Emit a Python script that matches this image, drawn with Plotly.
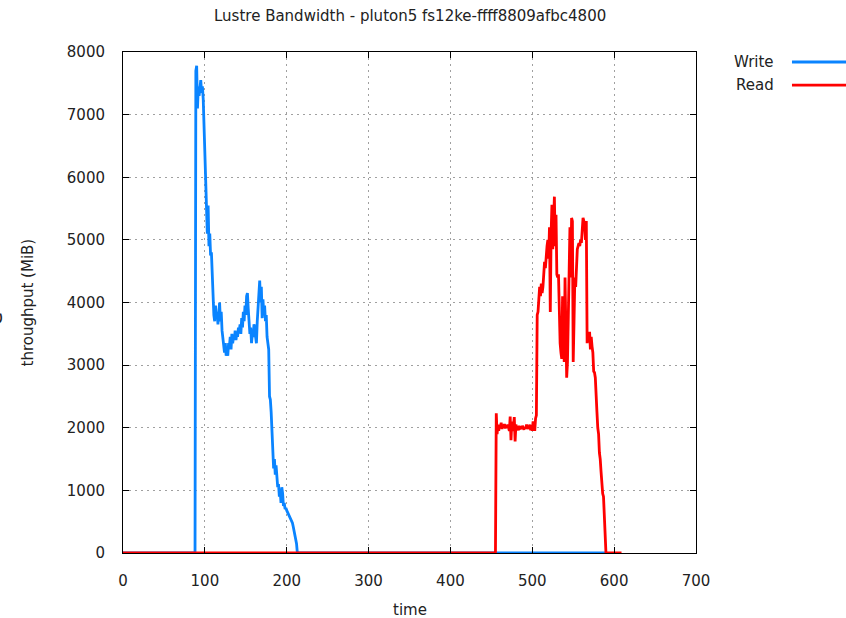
import plotly.graph_objects as go

# ---- data ----
write_t = [0, 88] + list(range(89, 214)) + [589]
write_v = [0, 0,
    7700, 7780, 7100, 7450, 7300, 7400, 7550, 7350, 7450, 7250,   # 89-98
    6850, 6100, 6050, 5600, 5100, 5550, 4900, 5100, 4750, 4800,   # 99-108
    4450, 3900, 3800, 3700, 3950, 3750, 3850, 3650, 3900, 4000,   # 109-118
    3700, 3850, 3550, 3450, 3300, 3200, 3350, 3150, 3250, 3150,   # 119-128
    3350, 3300, 3450, 3250, 3500, 3350, 3450, 3400, 3550, 3400,   # 129-138
    3500, 3450, 3600, 3550, 3650, 3500, 3750, 3600, 3850, 3700,   # 139-148
    3950, 3800, 4100, 4150, 3900, 3700, 3500, 3600, 3350, 3500,   # 149-158
    3450, 3650, 3600, 3450, 3350, 3700, 3900, 4200, 4350, 4000,   # 159-168
    4250, 3750, 4050, 3800, 3950, 3700, 3800, 3450, 3300, 3250,   # 169-178
    2500, 2450, 2250, 1950, 1600, 1350, 1500, 1250, 1400, 1200,   # 179-188
    1050, 1100, 900, 1000, 800, 1050, 950, 750, 800, 700,         # 189-198
    720, 680, 650, 620, 600, 560, 530, 500, 480, 420,             # 199-208
    350, 280, 200, 150, 0,                                        # 209-213
    0]

read_t = [0, 455] + list(range(456, 591)) + [609]
read_v = [0, 0,
    2230, 1900, 2050, 1950, 2050, 2000, 2080, 1980, 2050, 2000,   # 456-465
    2060, 1990, 2040, 2000, 2050, 2010, 1950, 2180, 1800, 2100,   # 466-475
    1950, 2020, 2170, 1780, 2050, 1990, 2000, 1960, 2030, 1990,   # 476-485
    2000, 1980, 2030, 2000, 1970, 2010, 1990, 2050, 1980, 2020,   # 486-495
    2000, 2050, 1960, 2030, 1950, 2100, 2000, 1950, 2150, 2200,   # 496-505
    3800, 3850, 4050, 4250, 4100, 4300, 4150, 4250, 4450, 4650,   # 506-515
    4550, 4800, 4900, 5000, 4700, 5200, 3850, 5100, 5560, 4850,   # 516-525
    5300, 5690, 4900, 5400, 4450, 4400, 4450, 3700, 3350, 3200,   # 526-535
    3100, 4100, 3300, 3050, 4400, 3200, 2800, 3050, 3600, 4500,   # 536-545
    5200, 4400, 5350, 5300, 3050, 3700, 4400, 4250, 4700, 4850,   # 546-555
    4900, 4950, 4900, 5000, 4950, 5100, 5350, 5300, 5250, 5000,   # 556-565
    5300, 3350, 3500, 3400, 3530, 3250, 3450, 3300, 3200, 2900,   # 566-575
    2880, 2800, 2300, 2250, 2000, 1900, 1600, 1500, 1300, 1000,   # 576-585
    950, 900, 550, 500, 0,                                        # 586-590
    0]

x_ticks = [0, 100, 200, 300, 400, 500, 600, 700]
y_ticks = [0, 1000, 2000, 3000, 4000, 5000, 6000, 7000, 8000]
series_names = ["Write", "Read"]
series_colors = ["#0a84ff", "#ff0000"]

title_text = "Lustre Bandwidth - pluton5 fs12ke-ffff8809afbc4800"
x_title = "time"
y_title = "throughput (MiB)"

FONT = "DejaVu Sans"
TXT = "#222222"
FS = 15

fig = go.Figure()
fig.add_trace(go.Scatter(x=write_t, y=write_v, mode="lines", name=series_names[0],
                         line=dict(color=series_colors[0], width=2.8), showlegend=False))
fig.add_trace(go.Scatter(x=read_t, y=read_v, mode="lines", name=series_names[1],
                         line=dict(color=series_colors[1], width=2.8), showlegend=False))

axis_common = dict(
    showline=True, linecolor="#000000", linewidth=1, mirror="ticks",
    ticks="inside", ticklen=6, tickcolor="#000000", tickwidth=1,
    showgrid=True, gridcolor="#a0a0a0", gridwidth=1, griddash="2px,4px",
    zeroline=False, ticklabelstandoff=14,
    tickfont=dict(family=FONT, size=FS, color=TXT),
)

fig.update_xaxes(range=[0, 700], tickvals=x_ticks, ticktext=[str(v) for v in x_ticks], **axis_common)
fig.update_yaxes(range=[0, 8000], tickvals=y_ticks, ticktext=[str(v) for v in y_ticks], **axis_common)

annotations = [
    dict(text=title_text, xref="paper", yref="paper", x=0.5, y=1, yshift=36,
         showarrow=False, font=dict(family=FONT, size=FS, color=TXT), xanchor="center", yanchor="middle"),
    dict(text=x_title, xref="paper", yref="paper", x=0.5, y=0, yshift=-57,
         showarrow=False, font=dict(family=FONT, size=FS, color=TXT), xanchor="center", yanchor="middle"),
    dict(text=y_title, xref="paper", yref="paper", x=0, y=0.5, xshift=-96, textangle=-90,
         showarrow=False, font=dict(family=FONT, size=FS, color=TXT), xanchor="center", yanchor="middle"),
    dict(text="e", xref="paper", yref="paper", x=0, y=0.5, xshift=-129, yshift=-16, textangle=-90,
         showarrow=False, font=dict(family=FONT, size=22, color=TXT), xanchor="center", yanchor="middle"),
]
shapes = []
legend_y = [0.98, 0.934]
for name, col, ly in zip(series_names, series_colors, legend_y):
    annotations.append(dict(text=name, xref="paper", yref="paper", x=1.1396, y=ly,
                            showarrow=False, xanchor="right", yanchor="middle",
                            font=dict(family=FONT, size=FS, color=TXT)))
    shapes.append(dict(type="line", xref="paper", yref="paper", x0=1.1675, x1=1.30, y0=ly, y1=ly,
                       line=dict(color=col, width=2.8)))

fig.update_layout(
    width=846, height=618,
    margin=dict(l=123, r=150, t=52, b=65),
    paper_bgcolor="white", plot_bgcolor="white",
    annotations=annotations, shapes=shapes,
    showlegend=False,
)

fig.write_html("out.html")
